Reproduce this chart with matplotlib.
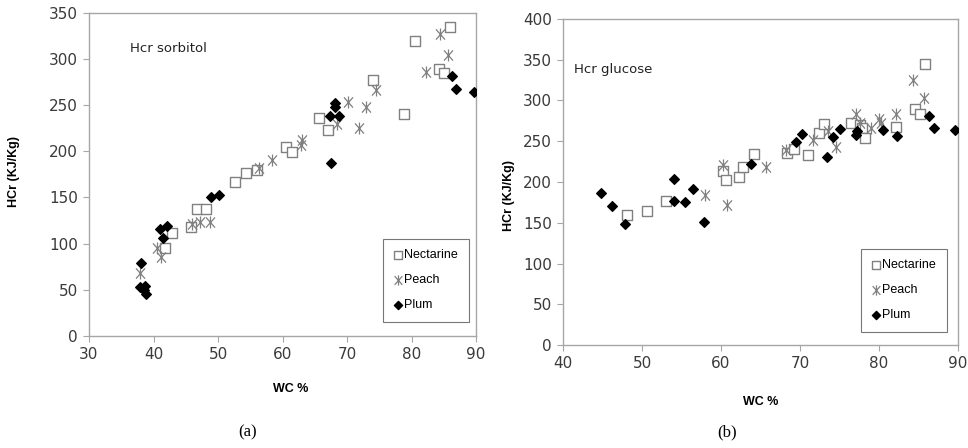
import matplotlib
matplotlib.use("Agg")
import matplotlib.pyplot as plt
from matplotlib.path import Path

# ---- Panel (a): Hcr sorbitol ----
a_nect_x = [42.8, 41.8, 45.8, 46.8, 48.2, 52.6, 54.3, 56.0, 60.5, 61.4, 65.7, 67.0, 74.1, 78.8, 80.5, 84.3, 85.1, 86.0]
a_nect_y = [112, 95, 118, 137, 138, 167, 177, 180, 205, 199, 236, 223, 277, 240, 319, 289, 285, 335]
a_peach_x = [37.9, 40.5, 41.2, 45.9, 47.2, 48.8, 56.4, 58.3, 62.8, 63.0, 68.4, 70.2, 71.8, 72.9, 74.5, 82.2, 84.4, 85.7]
a_peach_y = [68, 95, 85, 121, 123, 123, 182, 190, 207, 212, 230, 253, 225, 248, 266, 286, 327, 304]
a_plum_x = [38.1, 37.9, 38.7, 38.9, 38.5, 41.0, 42.1, 41.5, 48.9, 50.2, 67.4, 68.1, 68.1, 68.8, 67.5, 86.3, 86.9, 89.7]
a_plum_y = [79, 53, 54, 46, 50, 116, 119, 106, 151, 153, 238, 252, 248, 238, 187, 282, 267, 264]

# ---- Panel (b): Hcr glucose ----
b_nect_x = [48.1, 50.6, 53.0, 60.3, 60.6, 62.3, 62.8, 64.2, 68.3, 69.3, 71.0, 72.4, 73.0, 76.5, 77.6, 77.9, 78.2, 82.2, 84.5, 85.2, 85.8]
b_nect_y = [159, 164, 177, 213, 203, 206, 218, 234, 236, 240, 233, 260, 271, 272, 270, 266, 254, 268, 289, 283, 345]
b_peach_x = [58.0, 60.3, 60.7, 65.7, 68.2, 71.7, 73.5, 74.5, 77.1, 77.6, 79.0, 80.0, 80.3, 82.2, 84.3, 85.7]
b_peach_y = [184, 221, 172, 218, 239, 251, 262, 243, 283, 272, 266, 277, 272, 283, 325, 303]
b_plum_x = [44.8, 46.2, 47.9, 54.1, 54.0, 55.5, 56.4, 57.9, 63.8, 69.5, 70.3, 73.4, 74.2, 75.1, 77.1, 77.2, 80.5, 82.3, 86.3, 86.9, 89.6]
b_plum_y = [187, 171, 149, 204, 177, 175, 192, 151, 222, 249, 259, 231, 255, 265, 258, 263, 264, 256, 281, 266, 264]

a_xticks = [30, 40, 50, 60, 70, 80, 90]
a_yticks = [0, 50, 100, 150, 200, 250, 300, 350]
b_xticks = [40, 50, 60, 70, 80, 90]
b_yticks = [0, 50, 100, 150, 200, 250, 300, 350, 400]

plt.rcParams['font.family'] = ['Liberation Sans', 'DejaVu Sans']

# Excel-style asterisk marker: an X plus a vertical bar
STAR = Path([(-0.75, -0.85), (0.75, 0.85), (-0.75, 0.85), (0.75, -0.85), (0, -1), (0, 1)],
            [Path.MOVETO, Path.LINETO, Path.MOVETO, Path.LINETO, Path.MOVETO, Path.LINETO])

fig = plt.figure(figsize=(9.68, 4.48), dpi=100)
axA = fig.add_axes([89/968, 1-336/448, (476-89)/968, (336-12.7)/448])
axB = fig.add_axes([563/968, 1-345/448, (958-563)/968, (345-19)/448])

GRAY = '#808080'
SPINE = '#a6a6a6'

def style(ax, xt, yt, title, tx, ty, legpos, xl, yl):
    ax.set_xlim(xt[0], xt[-1])
    ax.set_ylim(yt[0], yt[-1])
    ax.set_xticks(xt)
    ax.set_yticks(yt)
    for s in ax.spines.values():
        s.set_color(SPINE)
        s.set_linewidth(1.0)
    ax.tick_params(direction='out', length=4, color=SPINE, labelsize=11,
                   labelcolor='#3a3a3a', pad=4)
    for lab in ax.get_xticklabels() + ax.get_yticklabels():
        lab.set_family(['DejaVu Sans'])
    ax.set_xlabel('WC %', fontsize=9, fontweight='bold')
    ax.set_ylabel('HCr (KJ/Kg)', fontsize=9, fontweight='bold')
    ax.xaxis.set_label_coords(*xl)
    ax.yaxis.set_label_coords(*yl)
    ax.text(tx, ty, title, transform=ax.transAxes, fontsize=9.5, color='#222222',
            va='center', ha='left', family=['DejaVu Sans'])
    leg = ax.legend(loc='lower left', bbox_to_anchor=legpos, frameon=True,
                    fancybox=False, edgecolor='#555555', fontsize=9,
                    handletextpad=0.15, borderpad=0.85, labelspacing=1.05,
                    handlelength=0.7, borderaxespad=0, markerscale=0.85)
    leg.get_frame().set_linewidth(0.8)

def draw(ax, nx, ny, px, py, lx, ly):
    ax.scatter(nx, ny, marker='s', s=58, facecolors='white', edgecolors=GRAY,
               linewidths=1.0, label='Nectarine', zorder=3)
    ax.scatter(px, py, marker=STAR, s=75, color=GRAY, linewidths=0.9,
               label='Peach', zorder=3)
    ax.scatter(lx, ly, marker='D', s=24, color='black', label='Plum', zorder=4)

draw(axA, a_nect_x, a_nect_y, a_peach_x, a_peach_y, a_plum_x, a_plum_y)
draw(axB, b_nect_x, b_nect_y, b_peach_x, b_peach_y, b_plum_x, b_plum_y)

style(axA, a_xticks, a_yticks, 'Hcr sorbitol', (130-89)/387, 1-(48-12.7)/323.3,
      ((383-89)/387, (336-322)/323.3), (0.52, -0.145), (-0.178, 0.51))
style(axB, b_xticks, b_yticks, 'Hcr glucose', (574-563)/395, 1-(69-19)/326,
      ((861-563)/395, (345-332)/326), (0.50, -0.156), (-0.122, 0.46))

fig.text(248/968, 1-432/448, '(a)', family=['Liberation Serif'], fontsize=12,
         ha='center', va='center')
fig.text(727/968, 1-432/448, '(b)', family=['Liberation Serif'], fontsize=12,
         ha='center', va='center')

fig.savefig('out.png', dpi=100)
